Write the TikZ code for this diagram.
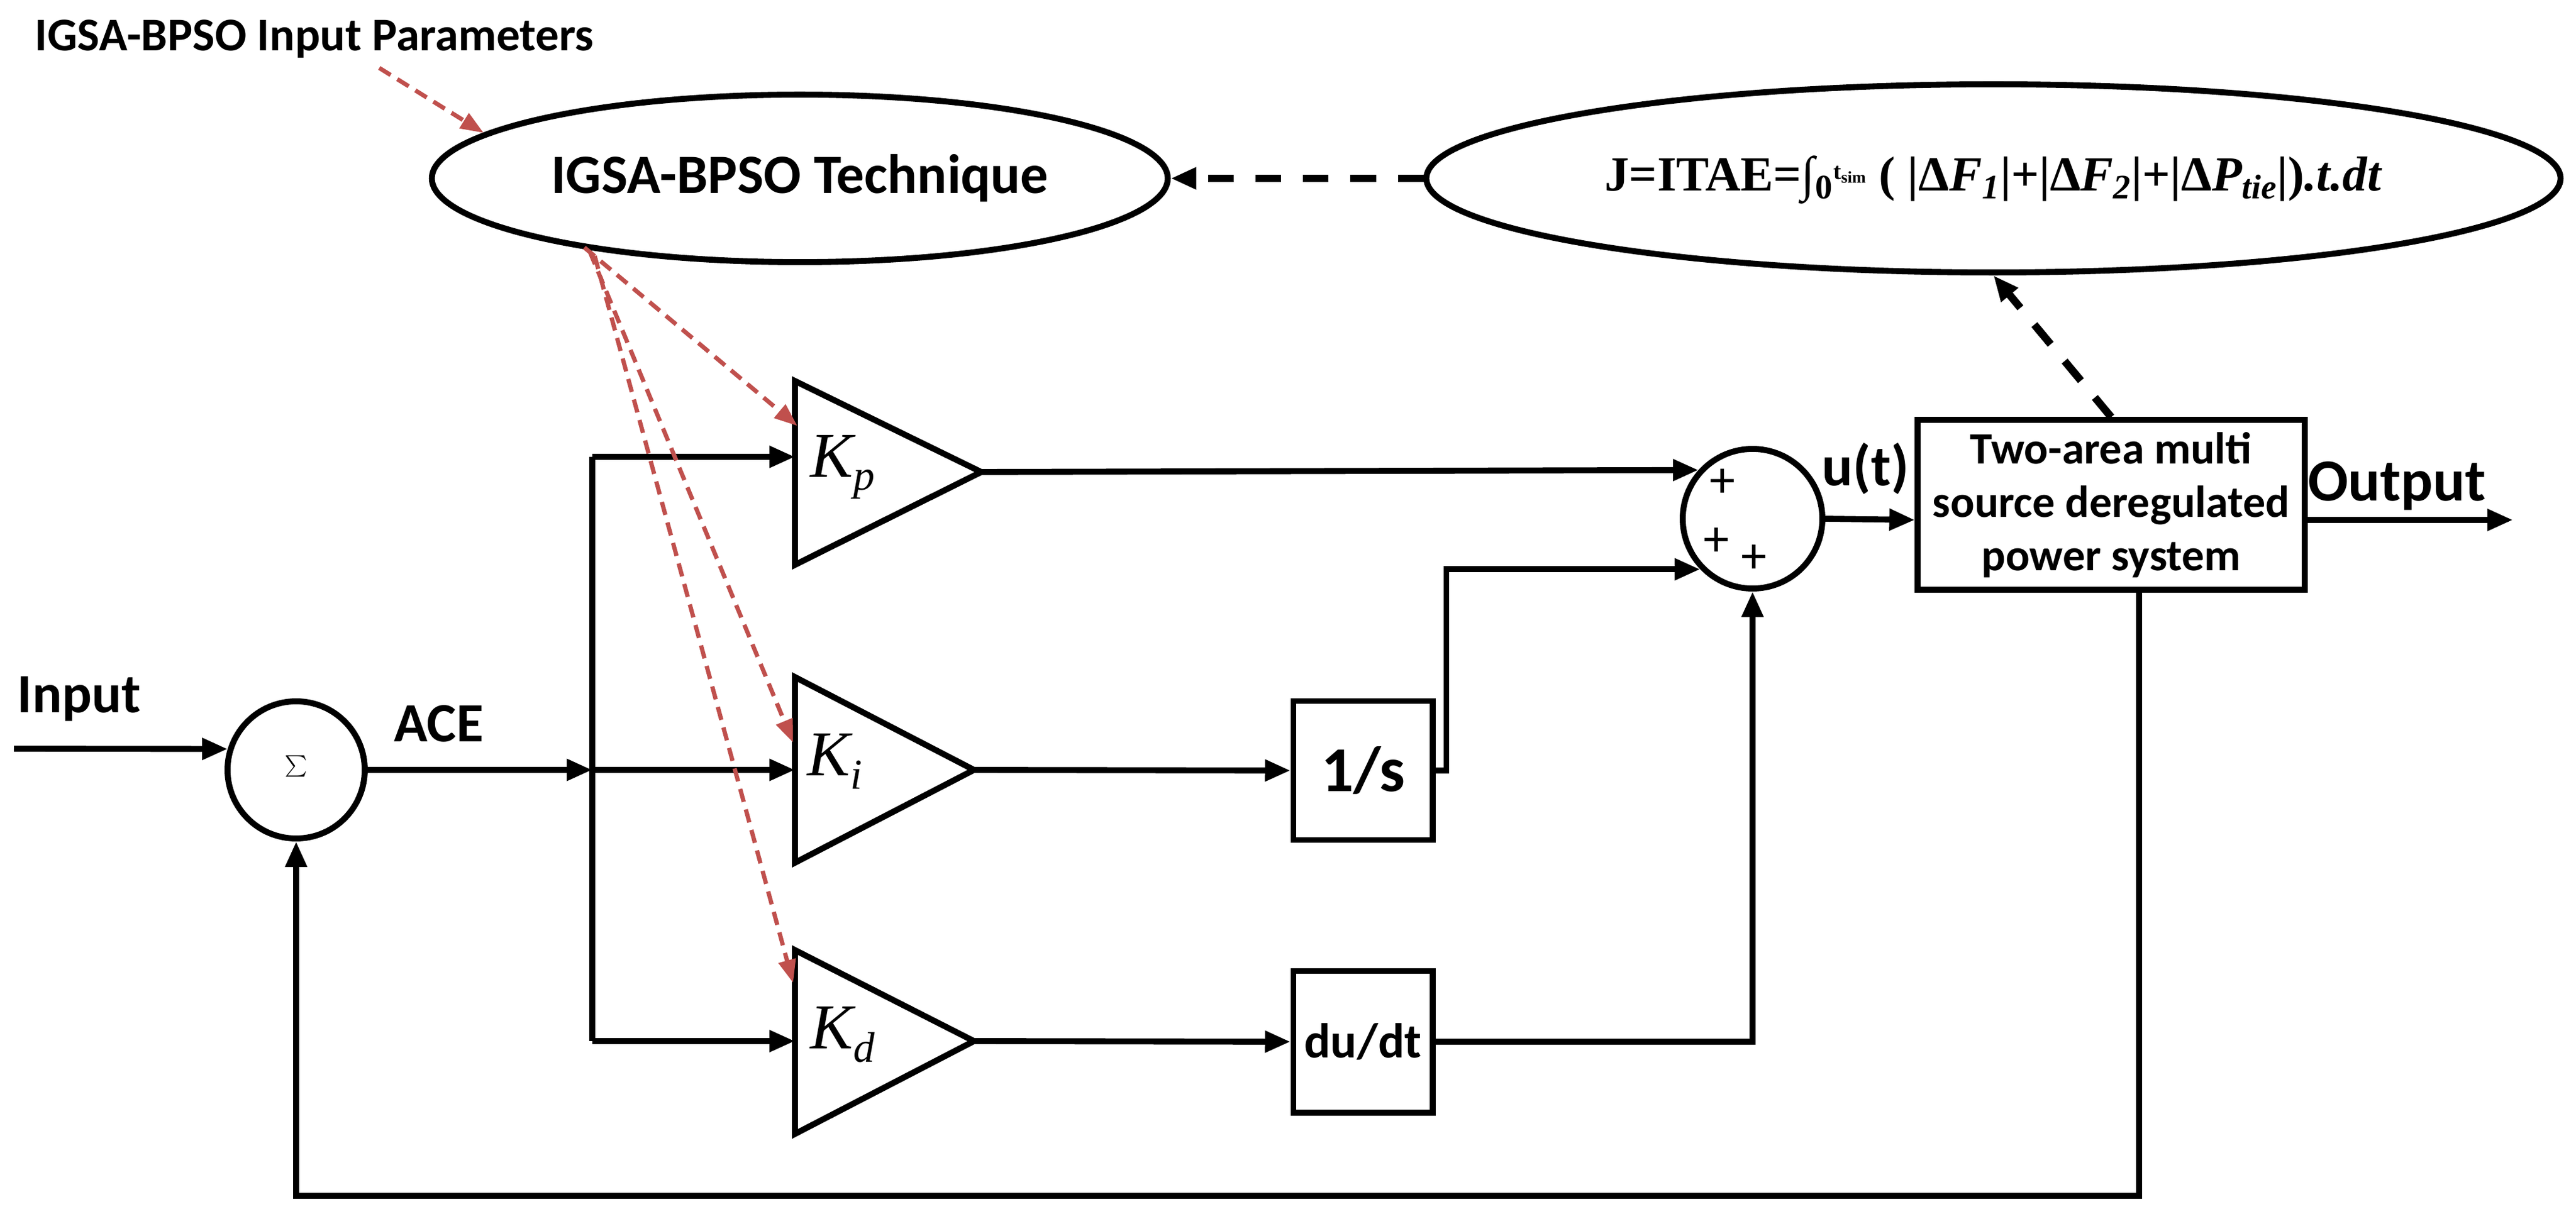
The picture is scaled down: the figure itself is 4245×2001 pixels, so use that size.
\documentclass[tikz,border=0pt]{standalone}
\usepackage{fontspec}
\setmainfont{Carlito}
\newfontfamily\serifx{Liberation Serif}
\usetikzlibrary{arrows.meta,shapes.geometric}
\definecolor{redd}{RGB}{192,80,77}
\begin{document}
\begin{tikzpicture}[x=0.01cm,y=-0.01cm,
  ln/.style={line width=2.8pt},
  arr/.style={ln,-{Triangle[length=0.42cm,width=0.34cm]}},
  dsh/.style={line width=3.6pt,dash pattern=on 0.42cm off 0.36cm,-{Triangle[length=0.42cm,width=0.34cm]}},
  rd/.style={draw=redd,line width=2pt,dash pattern=on 0.22cm off 0.13cm,-{Triangle[length=0.38cm,width=0.28cm]},redd},
  lbl/.style={font=\fontsize{26}{31}\selectfont\bfseries,inner sep=0pt},
  blk/.style={draw,line width=2.8pt,inner sep=0pt},
  kk/.style={font=\serifx\fontsize{30}{30}\selectfont\itshape,inner sep=0pt,anchor=west}]
\useasboundingbox (0,0) rectangle (4245,2001);
% top
\node[lbl,font=\fontsize{22}{26}\selectfont\bfseries,anchor=west] (title) at (57,64) {IGSA-BPSO Input Parameters};
\node[blk,ellipse,minimum width=12.12cm,minimum height=2.76cm,lbl] (e1) at (1318,294) {IGSA-BPSO Technique};
\node[blk,ellipse,minimum width=18.68cm,minimum height=3.1cm] (e2) at (3285,294) {};
\node[inner sep=0pt,font=\serifx\fontsize{23}{26}\selectfont\bfseries] (form) at (3285,296)
 {J=ITAE=∫\textsubscript{0}\raisebox{0.5ex}{\fontsize{11}{11}\selectfont t\textsubscript{sim}} ( |Δ\textit{F\textsubscript{1}}|+|Δ\textit{F\textsubscript{2}}|+|Δ\textit{P\textsubscript{tie}}|)\textit{.t.dt}};
% sum 1
\node[blk,circle,minimum size=2.26cm] (s1) at (488,1269) {};
\node[inner sep=0pt,font=\fontsize{40}{40}\selectfont] at (488,1265) {$\sum$};
\coordinate (inL) at (23,1234);
\node[lbl,anchor=west] (inp) at (28,1152) {Input};
\node[lbl] (ace) at (723,1193) {ACE};
\coordinate (br) at (976,1269);
% triangles
\coordinate (kpa) at (1310,628); \coordinate (kpb) at (1310,931); \coordinate (kpt) at (1617,778);
\coordinate (kia) at (1310,1116); \coordinate (kib) at (1310,1422); \coordinate (kit) at (1605,1269);
\coordinate (kda) at (1310,1566); \coordinate (kdb) at (1310,1869); \coordinate (kdt) at (1605,1716);
\draw[ln,line join=miter] (kpa) -- (kpt) -- (kpb) -- cycle;
\draw[ln,line join=miter] (kia) -- (kit) -- (kib) -- cycle;
\draw[ln,line join=miter] (kda) -- (kdt) -- (kdb) -- cycle;
\node[kk] (kp) at (1335,770) {K\raisebox{-0.45ex}{\fontsize{20}{20}\selectfont p}};
\node[kk] (ki) at (1330,1255) {K\raisebox{-0.45ex}{\fontsize{20}{20}\selectfont i}};
\node[kk] (kd) at (1335,1705) {K\raisebox{-0.45ex}{\fontsize{20}{20}\selectfont d}};
\coordinate (kpin) at (1310,753); \coordinate (kiin) at (1310,1269); \coordinate (kdin) at (1310,1716);
% blocks
\node[blk,minimum width=2.29cm,minimum height=2.29cm,lbl,font=\fontsize{30}{30}\selectfont\bfseries] (int) at (2246,1270) {1/s};
\node[blk,minimum width=2.29cm,minimum height=2.33cm,lbl,font=\fontsize{23}{26}\selectfont\bfseries] (der) at (2246,1717) {du/dt};
\node[blk,circle,minimum size=2.3cm] (s2) at (2888,855) {};
\node[inner sep=0pt,font=\fontsize{24}{24}\selectfont] at (2838,796) {+};
\node[inner sep=0pt,font=\fontsize{24}{24}\selectfont] at (2828,893) {+};
\node[inner sep=0pt,font=\fontsize{24}{24}\selectfont] at (2890,921) {+};
\node[blk,minimum width=6.37cm,minimum height=2.79cm,align=center,font=\fontsize{21}{25}\selectfont\bfseries] (sys) at (3479,832) {Two-area multi\\source deregulated\\power system};
\node[lbl,font=\fontsize{27}{30}\selectfont\bfseries] (ut) at (3074,772) {u(t)};
\node[lbl,font=\fontsize{28}{30}\selectfont\bfseries] (outl) at (3950,801) {Output};
\coordinate (outR) at (4141,857);
\coordinate (fb) at (3525,1971);
% connectors
\draw[arr] (inL) -- (s1.163);
\draw[arr] (s1.east) -- (br);
\draw[ln] (br |- kpin) -- (br |- kdin);
\draw[arr] (br |- kpin) -- (kpin);
\draw[arr] (br) -- (kiin);
\draw[arr] (br |- kdin) -- (kdin);
\draw[arr] (kpt) -- (s2.138);
\draw[arr] (kit) -- (int.west);
\draw[arr] (int.east) -- ++(18,0) |- (s2.224);
\draw[arr] (kdt) -- (der.west);
\draw[arr] (der.east) -| (s2.south);
\draw[arr] (s2.east) -- (sys.west |- 0,857);
\draw[arr] (sys.east |- outR) -- (outR);
\draw[arr] (sys.south -| fb) -- (fb) -| (s1.south);
\draw[dsh] (sys.north) -- (e2.south);
\draw[dsh] (e2.west) -- (e1.east);
% red dashed
\draw[rd] (625,112) -- (797,219);
\draw[rd] (963,408) -- (1314,702);
\draw[rd] (972,415) -- (1307,1224);
\draw[rd] (980,422) -- (1307,1620);
\end{tikzpicture}
\end{document}
